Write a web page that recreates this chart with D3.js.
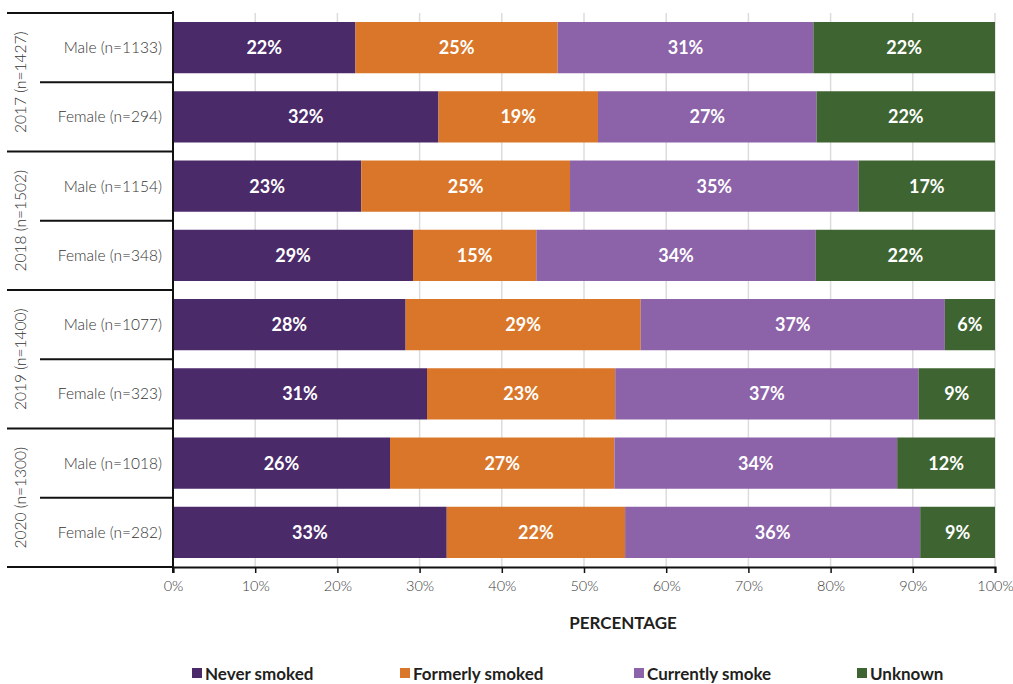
<!DOCTYPE html>
<html>
<head>
<meta charset="utf-8">
<script src="https://cdn.jsdelivr.net/npm/d3@7"></script>
<style>
  body { margin: 0; background: #fff; }
  svg { display: block; font-family: Lato, "Open Sans", sans-serif; }
</style>
</head>
<body>
<svg id="chart"></svg>
<script>
// data
const years = ['2017 (n=1427)', '2018 (n=1502)', '2019 (n=1400)', '2020 (n=1300)'];
const groups = [
  'Male (n=1133)', 'Female (n=294)',
  'Male (n=1154)', 'Female (n=348)',
  'Male (n=1077)', 'Female (n=323)',
  'Male (n=1018)', 'Female (n=282)'
];
const categories = ['Never smoked', 'Formerly smoked', 'Currently smoke', 'Unknown'];
const neverSmoked     = [22.2, 32.3, 22.9, 29.2, 28.3, 30.9, 26.4, 33.3];
const formerlySmoked  = [24.6, 19.4, 25.4, 15.0, 28.6, 22.9, 27.3, 21.7];
const currentlySmoke  = [31.1, 26.6, 35.1, 34.0, 37.0, 36.9, 34.4, 35.9];
const unknown         = [22.1, 21.7, 16.6, 21.8, 6.1, 9.3, 11.9, 9.1];
const xTicks = [0, 10, 20, 30, 40, 50, 60, 70, 80, 90, 100];

const colors = ['#4b2a6a', '#da7629', '#8c62a9', '#3e6531'];

const width = 1013, height = 684;
const margin = {top: 13, right: 18, bottom: 117, left: 173};

const svg = d3.select('#chart')
    .attr('width', width)
    .attr('height', height);

const x = d3.scaleLinear()
    .domain([0, 100])
    .range([margin.left, width - margin.right]);

const y = d3.scaleBand()
    .domain(groups)
    .range([margin.top, height - margin.bottom])
    .paddingInner(0.26)
    .paddingOuter(0.13);

// build stacked rows
const table = groups.map((g, i) => ({
  group: g,
  'Never smoked': neverSmoked[i],
  'Formerly smoked': formerlySmoked[i],
  'Currently smoke': currentlySmoke[i],
  'Unknown': unknown[i]
}));
const series = d3.stack().keys(categories)(table);

// gridlines
svg.append('g')
    .selectAll('line')
    .data(xTicks)
  .join('line')
    .attr('x1', d => x(d))
    .attr('x2', d => x(d))
    .attr('y1', margin.top)
    .attr('y2', height - margin.bottom)
    .attr('stroke', '#dcdcdc')
    .attr('stroke-width', 1.5);

// bars
const layer = svg.append('g')
    .selectAll('g')
    .data(series)
  .join('g')
    .attr('fill', (d, i) => colors[i]);

layer.selectAll('rect')
    .data(d => d)
  .join('rect')
    .attr('x', d => x(d[0]))
    .attr('width', d => x(d[1]) - x(d[0]))
    .attr('y', d => y(d.data.group))
    .attr('height', y.bandwidth());

// value labels (rounded share of each segment)
layer.selectAll('text')
    .data(d => d.map(v => Object.assign(v, {key: d.key})))
  .join('text')
    .attr('x', d => (x(d[0]) + x(d[1])) / 2)
    .attr('y', d => y(d.data.group) + y.bandwidth() / 2)
    .attr('dy', '0.36em')
    .attr('text-anchor', 'middle')
    .attr('fill', '#fff')
    .attr('font-weight', 'bold')
    .attr('font-size', '18px')
    .text(d => Math.round(d.data[d.key]) + '%');

// x axis
const xAxis = svg.append('g')
    .attr('transform', `translate(0,${height - margin.bottom})`)
    .call(d3.axisBottom(x).tickValues(xTicks).tickSize(6).tickPadding(8).tickFormat(d => d + '%'));
xAxis.select('.domain').attr('stroke', '#111').attr('stroke-width', 2);
xAxis.selectAll('.tick line').attr('stroke', '#111').attr('stroke-width', 1.5);
xAxis.selectAll('.tick text')
    .attr('font-family', 'Lato, sans-serif')
    .attr('font-size', '14.5px')
    .attr('font-weight', 300)
    .attr('fill', '#3a3a3a');

// y axis line
svg.append('line')
    .attr('x1', margin.left).attr('x2', margin.left)
    .attr('y1', margin.top - 2).attr('y2', height - margin.bottom + 6)
    .attr('stroke', '#111')
    .attr('stroke-width', 2);

// table lines on the left
const step = y.step();
const rowEdges = d3.range(groups.length + 1).map(i => margin.top + i * step);
svg.append('g')
    .selectAll('line')
    .data(rowEdges)
  .join('line')
    .attr('x1', (d, i) => i % 2 === 0 ? 7 : 40)
    .attr('x2', margin.left)
    .attr('y1', d => d)
    .attr('y2', d => d)
    .attr('stroke', '#111')
    .attr('stroke-width', 2);

// group labels
svg.append('g')
    .selectAll('text')
    .data(groups)
  .join('text')
    .attr('x', margin.left - 11)
    .attr('y', d => y(d) + y.bandwidth() / 2)
    .attr('dy', '0.36em')
    .attr('text-anchor', 'end')
    .attr('font-size', '15.5px')
    .attr('font-weight', 300)
    .attr('fill', '#333')
    .text(d => d);

// year labels, rotated
svg.append('g')
    .selectAll('text')
    .data(years)
  .join('text')
    .attr('transform', (d, i) => `translate(20,${margin.top + (2 * i + 1) * step}) rotate(-90)`)
    .attr('dy', '0.36em')
    .attr('text-anchor', 'middle')
    .attr('font-size', '15.5px')
    .attr('font-weight', 300)
    .attr('fill', '#333')
    .text(d => d);

// axis title
svg.append('text')
    .attr('x', 623)
    .attr('y', 629)
    .attr('text-anchor', 'middle')
    .attr('font-weight', 'bold')
    .attr('font-size', '17px')
    .attr('fill', '#231f20')
    .text('PERCENTAGE');

// legend
const legendX = [192, 400, 634, 857];
const legend = svg.append('g')
    .selectAll('g')
    .data(categories)
  .join('g')
    .attr('transform', (d, i) => `translate(${legendX[i]},674)`);
legend.append('rect')
    .attr('x', 0).attr('y', -6)
    .attr('width', 10).attr('height', 10)
    .attr('fill', (d, i) => colors[i]);
legend.append('text')
    .attr('x', 13)
    .attr('y', 0)
    .attr('dy', '0.36em')
    .attr('font-weight', 'bold')
    .attr('font-size', '17px')
    .attr('fill', '#231f20')
    .text(d => d);
</script>
</body>
</html>
